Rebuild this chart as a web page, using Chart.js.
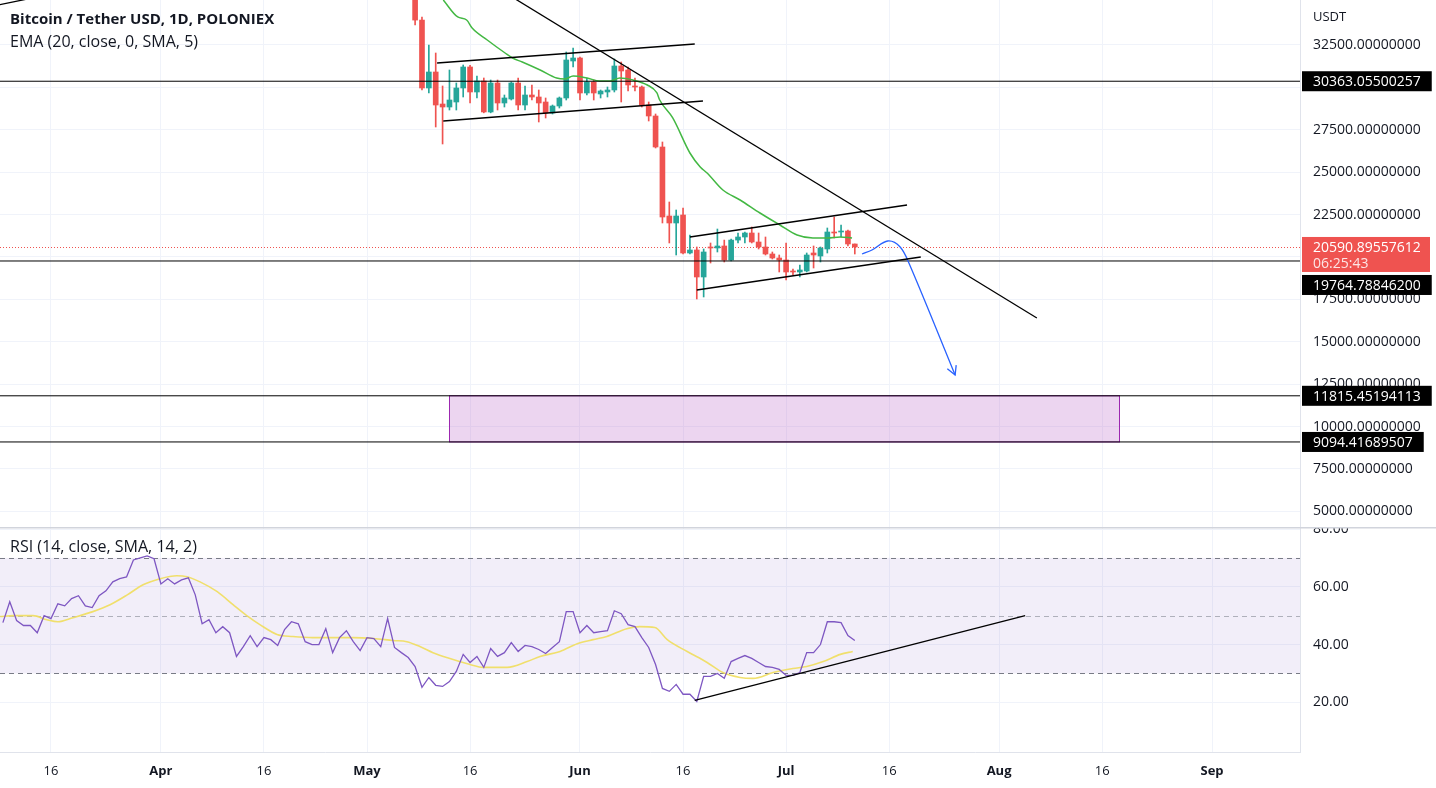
<!DOCTYPE html>
<html>
<head>
<meta charset="utf-8">
<script src="https://cdn.jsdelivr.net/npm/chart.js@4.4.0/dist/chart.umd.min.js"></script>
<style>
  html, body { margin: 0; padding: 0; background: #fff; }
  #wrap { position: relative; width: 1436px; height: 788px; overflow: hidden; }
  #mainBox { position: absolute; left: 0; top: 0; width: 1436px; height: 527px; }
  #rsiBox { position: absolute; left: 0; top: 527px; width: 1436px; height: 261px; }
</style>
</head>
<body>
<div id="wrap">
  <div id="mainBox"><canvas id="mainChart"></canvas></div>
  <div id="rsiBox"><canvas id="rsiChart"></canvas></div>
</div>
<script>
// days are counted from 1 Jun 2022 (day 0)
const dateTickDays = [-77, -61, -46, -31, -16, 0, 15, 30, 45, 61, 76, 92];
const dateTickLabels = ["16", "Apr", "16", "May", "16", "Jun", "16", "Jul", "16", "Aug", "16", "Sep"];
const priceTicks = [5000, 7500, 10000, 12500, 15000, 17500, 20000, 22500, 25000, 27500, 30000, 32500];
const rsiTicks = [20, 40, 60, 80];

// daily candles, 8 May .. 11 Jul
const candleStartDay = -24;
const opens = [35470, 33970, 29965, 30908, 29020, 28844, 29139, 29965, 31203, 29729, 30377, 28550, 30259, 29080, 29316, 30259, 28962, 29552, 29434, 29139, 28491, 28903, 29375, 31557,
  31734, 29670, 30318, 29611, 29729, 29847, 31262, 31026, 30083, 30024, 28962, 28314, 26486, 22417, 22005, 22476, 20236, 20413, 18821, 20590, 20531, 20649, 19823, 20998, 21179, 21415,
  20884, 20590, 20177, 19941, 19823, 19175, 19116, 19175, 20236, 20059, 20472, 21474, 21474, 21533, 20767];
const highs = [35500, 34150, 32500, 32028, 30083, 31026, 30259, 31321, 31300, 30672, 30554, 30436, 30436, 29552, 30318, 30554, 30083, 30142, 29847, 29375, 28962, 29434, 32087, 32323,
  31793, 30554, 30436, 29847, 30024, 31675, 31498, 31203, 30554, 30083, 29139, 28432, 26781, 23243, 22771, 22889, 21297, 20590, 20472, 20826, 21650, 20998, 21061, 21415, 21474, 21769,
  21415, 21179, 20295, 20118, 20826, 19293, 19528, 20236, 20649, 20590, 21710, 22358, 21887, 21592, 20767];
const lows = [33680, 29850, 29670, 27665, 26663, 28667, 28667, 29434, 29080, 29375, 28500, 28500, 28667, 28844, 29257, 28667, 28667, 29257, 27960, 28196, 28432, 28785, 29257, 31203,
  29257, 29552, 29257, 29375, 29434, 29729, 29139, 29788, 29788, 28844, 28019, 26427, 22005, 20826, 20118, 20177, 20177, 17524, 17642, 19646, 20295, 19705, 19764, 20826, 20826, 20826,
  20472, 20118, 19882, 19116, 18644, 18939, 18821, 19116, 19351, 19705, 20236, 21120, 21179, 20649, 20177];
const closes = [33970, 29965, 30908, 28962, 28844, 29257, 29965, 31203, 29729, 30377, 28550, 30259, 29080, 29375, 30259, 28962, 29552, 29434, 29080, 28491, 28903, 29375, 31616, 31734,
  29670, 30318, 29670, 29788, 29847, 31262, 30967, 30142, 30024, 28962, 28314, 26486, 22358, 22005, 22417, 20236, 20413, 18821, 20295, 20531, 20649, 19823, 20998, 21179, 21415, 20884,
  20590, 20177, 19941, 19823, 19116, 19116, 19234, 20118, 20118, 20531, 21474, 21415, 21533, 20767, 20590];

// EMA (20)
const emaDays = [-19.9, -17.8, -16.5, -15.7, -13.5, -10.9, -9.8, -8.4, -5.8, -3.4, -2.2, -1.0, 1.0, 2.9, 4.4, 5.8, 7.7, 9.8, 11.2, 11.6, 13.5, 16.0, 17.5, 18.5, 20.8, 23.3, 26.2, 29.1, 31.6, 33.9, 36.0, 37.9, 39.6];
const emaValues = [35153, 34151, 33974, 33502, 32795, 32028, 31733, 31498, 31026, 30554, 30495, 30672, 30554, 30377, 30377, 30554, 30436, 30142, 29670, 29257, 28196, 26132, 25307, 24953, 23950, 23361, 22594, 21887, 21297, 21120, 21120, 21179, 21120];

const levels = [30363.05500257, 19764.788462, 11815.45194113, 9094.41689507];
const currentPrice = 20590.89557612;
const countdown = "06:25:43";
const zoneDays = [-19.07, 78.46];
const zonePrices = [9094.41689507, 11815.45194113];

const trendLines = [
  [[-86, 34750], [-79, 35330]],
  [[-12, 35854], [66.5, 16403]],
  [[-20.8, 31439], [16.7, 32559]],
  [[-19.9, 28019], [17.9, 29198]],
  [[16.0, 21179], [47.6, 23066]],
  [[17.0, 18054], [49.6, 19999]]
];
const arrowDays = [41.05, 42.5, 44.8, 46.6, 48.0, 54.6];
const arrowPrices = [20177, 20413, 20943, 20590, 19528, 13042];

// RSI 14, 9 Mar .. 11 Jul
const rsiStartDay = -84;
const rsiValues = [47.6, 54.8, 48.3, 46.6, 46.6, 44.1, 50.0, 49.0, 54.1, 53.4, 55.9, 56.9, 53.4, 52.8, 56.9, 58.6, 61.7, 62.8, 63.4, 69.3,
  70.0, 70.7, 69.7, 61.0, 62.8, 61.0, 62.4, 63.1, 57.2, 47.2, 48.6, 44.1, 46.2, 44.1, 35.9, 39.3, 43.1, 39.3, 42.4, 41.7,
  39.7, 45.2, 47.9, 47.2, 41.0, 40.0, 40.0, 45.5, 37.2, 42.4, 44.8, 41.0, 37.9, 42.4, 42.1, 39.3, 49.0, 39.0, 37.2, 35.5,
  32.4, 25.2, 28.6, 25.9, 25.5, 27.2, 30.7, 36.6, 33.8, 35.9, 32.1, 38.6, 35.9, 37.2, 40.7, 37.6, 39.7, 39.3, 38.3, 36.9,
  39.0, 41.0, 51.4, 51.4, 44.1, 46.6, 44.1, 44.5, 44.8, 51.7, 50.7, 46.9, 46.2, 42.4, 39.0, 33.1, 24.8, 23.8, 26.2, 22.8,
  22.8, 20.3, 29.0, 29.0, 30.0, 28.3, 34.1, 35.2, 36.2, 35.2, 33.8, 32.4, 32.1, 31.4, 29.3, 29.3, 30.3, 37.2, 37.2, 40.0,
  47.9, 47.9, 47.6, 43.1, 41.4];
const maDays = [-84.4, -82.5, -79.6, -77.6, -76.0, -73.8, -70.9, -68.4, -65.9, -63.6, -61.1, -58.7, -57.2, -55.3, -52.8, -50.5, -48.5, -46.6, -44.1, -41.8,
  -38.9, -36.0, -33.0, -30.1, -27.2, -25.2, -23.3, -21.4, -19.4, -16.0, -14.1, -10.6, -7.7, -5.8, -2.9, -0.4, 1.9, 3.9, 6.8, 8.7,
  10.9, 12.7, 15.6, 18.5, 20.8, 23.3, 25.2, 28.1, 31.0, 33.0, 35.4, 37.9, 39.7];
const maValues = [49.7, 50.0, 50.0, 48.6, 47.9, 49.3, 51.4, 53.8, 57.2, 60.7, 62.8, 63.8, 63.5, 61.7, 58.3, 53.8, 50.0, 46.9, 43.5, 42.8,
  42.4, 42.4, 42.4, 42.1, 41.4, 41.0, 39.3, 37.2, 35.5, 33.1, 32.1, 32.1, 34.1, 35.9, 37.6, 40.3, 41.7, 42.8, 45.5, 46.2,
  45.9, 41.7, 37.6, 33.8, 30.3, 28.6, 28.3, 30.3, 31.7, 32.4, 34.1, 36.6, 37.6];
const rsiTrend = [[16.7, 20.7], [64.8, 50.0]];

const X_MIN = -84.42, X_MAX = 104.8;
const UP = "#26a69a", DOWN = "#ef5350";
const FONT = '"Open Sans", sans-serif';
const TEXT = "#131722";
const GRID = "#f0f3fa";

Chart.defaults.font.family = FONT;
Chart.defaults.font.size = 14;
Chart.defaults.color = TEXT;

function fixAxisWidth(scale) {
  scale.width = 136;
  scale.paddingTop = 0;
  scale.paddingBottom = 0;
}

function xScale(showLabels) {
  return {
    type: "linear",
    min: X_MIN,
    max: X_MAX,
    offset: false,
    afterBuildTicks: (s) => { s.ticks = dateTickDays.map((v) => ({ value: v })); },
    afterFit: (s) => { s.height = showLabels ? 36 : 0; s.paddingLeft = 0; s.paddingRight = 0; },
    grid: { color: GRID, drawTicks: false, offset: false },
    border: { display: showLabels, color: "#e0e3eb" },
    ticks: {
      display: showLabels,
      autoSkip: false,
      maxRotation: 0,
      padding: 11,
      color: TEXT,
      font: (ctx) => ({ family: FONT, size: 13, weight: dateTickLabels[ctx.index] === "16" ? "normal" : "bold" }),
      callback: (v, i) => dateTickLabels[i],
    },
  };
}

const candleDays = closes.map((_, i) => candleStartDay + i);
const candleColors = closes.map((c, i) => (c >= opens[i] ? UP : DOWN));
const bodyData = candleDays.map((d, i) => ({ x: d, y: [opens[i], closes[i]] }));
const wickData = candleDays.map((d, i) => ({ x: d, y: [lows[i], highs[i]] }));

function lineSet(points, color, width, order) {
  return {
    type: "line",
    data: points.map((p) => ({ x: p[0], y: p[1] })),
    borderColor: color,
    borderWidth: width,
    pointRadius: 0,
    fill: false,
    order: order,
  };
}

const mainSets = [
  { type: "bar", data: wickData, backgroundColor: candleColors, barThickness: 1, grouped: false, order: 5 },
  { type: "bar", data: bodyData, backgroundColor: candleColors, barThickness: 5, minBarLength: 1, grouped: false, borderSkipped: false, order: 4 },
  {
    type: "line",
    data: emaDays.map((d, i) => ({ x: d, y: emaValues[i] })),
    borderColor: "#43b843",
    borderWidth: 1.5,
    pointRadius: 0,
    cubicInterpolationMode: "monotone",
    order: 3,
  },
];
levels.forEach((lv) => mainSets.push(lineSet([[X_MIN, lv], [X_MAX, lv]], "#000000", 1, 2)));
trendLines.forEach((t) => mainSets.push(lineSet(t, "#000000", 1.3, 1)));
const arrowSet = lineSet(arrowDays.map((d, i) => [d, arrowPrices[i]]), "#2962ff", 1.3, 1);
arrowSet.tension = 0.35;
mainSets.push(arrowSet);

function priceBox(ctx, text, yTop, h, bg) {
  ctx.font = "14px " + FONT;
  const w = ctx.measureText(text).width + 22;
  ctx.fillStyle = bg;
  ctx.fillRect(1302, yTop, w, h);
  ctx.fillStyle = "#ffffff";
  ctx.textAlign = "left";
  ctx.textBaseline = "middle";
  ctx.fillText(text, 1313, yTop + h / 2 + 1);
  return w;
}

const mainDecor = {
  id: "mainDecor",
  beforeDatasetsDraw(chart) {
    const { ctx, chartArea: a, scales: { x, y } } = chart;
    ctx.save();
    const l = x.getPixelForValue(zoneDays[0]), r = x.getPixelForValue(zoneDays[1]);
    const t = y.getPixelForValue(zonePrices[1]), b = y.getPixelForValue(zonePrices[0]);
    ctx.fillStyle = "rgba(186,104,200,0.28)";
    ctx.fillRect(l, t, r - l, b - t);
    ctx.strokeStyle = "#9c27b0";
    ctx.lineWidth = 1;
    ctx.strokeRect(Math.round(l) + 0.5, t, Math.round(r - l), b - t);
    const py = Math.round(y.getPixelForValue(currentPrice)) + 0.5;
    ctx.strokeStyle = DOWN;
    ctx.setLineDash([1, 2]);
    ctx.beginPath();
    ctx.moveTo(a.left, py);
    ctx.lineTo(a.right, py);
    ctx.stroke();
    ctx.restore();
  },
  afterDraw(chart) {
    const { ctx, scales: { x, y } } = chart;
    ctx.save();
    // arrow head
    const n = arrowDays.length;
    const tx = x.getPixelForValue(arrowDays[n - 1]), ty = y.getPixelForValue(arrowPrices[n - 1]);
    const fx = x.getPixelForValue(arrowDays[n - 2]), fy = y.getPixelForValue(arrowPrices[n - 2]);
    const ang = Math.atan2(ty - fy, tx - fx);
    ctx.strokeStyle = "#2962ff";
    ctx.lineWidth = 1.3;
    ctx.beginPath();
    ctx.moveTo(tx - 10 * Math.cos(ang - 0.5), ty - 10 * Math.sin(ang - 0.5));
    ctx.lineTo(tx, ty);
    ctx.lineTo(tx - 10 * Math.cos(ang + 0.5), ty - 10 * Math.sin(ang + 0.5));
    ctx.stroke();

    // legend texts
    ctx.fillStyle = TEXT;
    ctx.textAlign = "left";
    ctx.textBaseline = "middle";
    ctx.font = "bold 15px " + FONT;
    ctx.fillText("Bitcoin / Tether USD, 1D, POLONIEX", 10, 20);
    ctx.font = "16px " + FONT;
    ctx.fillText("EMA (20, close, 0, SMA, 5)", 10, 42);
    ctx.font = "13px " + FONT;
    ctx.fillText("USDT", 1313, 17);

    // axis price labels
    const cy = y.getPixelForValue(currentPrice);
    const redTop = cy - 10, redH = 35;
    levels.forEach((lv) => {
      const ly = y.getPixelForValue(lv);
      let top = ly - 10;
      if (top < redTop + redH && top + 20 > redTop) top = redTop + redH + 3;
      priceBox(ctx, lv.toFixed(8), top, 20, "#000000");
    });
    ctx.fillStyle = DOWN;
    ctx.fillRect(1302, redTop, 128, redH);
    ctx.fillStyle = "#ffffff";
    ctx.font = "14px " + FONT;
    ctx.fillText(currentPrice.toFixed(8), 1313, cy + 1);
    ctx.fillStyle = "rgba(255,255,255,0.85)";
    ctx.fillText(countdown, 1313, cy + 17);
    ctx.restore();
  },
};

new Chart(document.getElementById("mainChart"), {
  type: "bar",
  data: { datasets: mainSets },
  options: {
    responsive: true,
    maintainAspectRatio: false,
    animation: false,
    events: [],
    layout: { padding: 0 },
    plugins: { legend: { display: false }, tooltip: { enabled: false } },
    scales: {
      x: xScale(false),
      y: {
        type: "linear",
        position: "right",
        min: 4080,
        max: 35153,
        afterBuildTicks: (s) => { s.ticks = priceTicks.map((v) => ({ value: v })); },
        afterFit: fixAxisWidth,
        grid: { color: GRID, drawTicks: false },
        border: { display: true, color: "#e0e3eb" },
        ticks: { autoSkip: false, padding: 13, color: TEXT, callback: (v) => Number(v).toFixed(8) },
      },
    },
  },
  plugins: [mainDecor],
});

const rsiDecor = {
  id: "rsiDecor",
  beforeDatasetsDraw(chart) {
    const { ctx, chartArea: a, scales: { y } } = chart;
    ctx.save();
    const t = y.getPixelForValue(70), b = y.getPixelForValue(30), m = y.getPixelForValue(50);
    ctx.fillStyle = "rgba(126,87,194,0.1)";
    ctx.fillRect(a.left, t, a.right - a.left, b - t);
    ctx.lineWidth = 1;
    ctx.setLineDash([5, 4]);
    [[t, "#787b86"], [m, "rgba(120,123,134,0.55)"], [b, "#787b86"]].forEach(([yy, c]) => {
      ctx.strokeStyle = c;
      ctx.beginPath();
      ctx.moveTo(a.left, Math.round(yy) + 0.5);
      ctx.lineTo(a.right, Math.round(yy) + 0.5);
      ctx.stroke();
    });
    ctx.restore();
  },
  afterDraw(chart) {
    const { ctx } = chart;
    ctx.save();
    ctx.strokeStyle = "#d1d4dc";
    ctx.lineWidth = 1.5;
    ctx.beginPath();
    ctx.moveTo(0, 0.75);
    ctx.lineTo(chart.width, 0.75);
    ctx.stroke();
    ctx.fillStyle = TEXT;
    ctx.font = "16px " + FONT;
    ctx.textAlign = "left";
    ctx.textBaseline = "middle";
    ctx.fillText("RSI (14, close, SMA, 14, 2)", 10, 20);
    ctx.restore();
  },
};

new Chart(document.getElementById("rsiChart"), {
  type: "line",
  data: {
    datasets: [
      {
        data: rsiValues.map((v, i) => ({ x: rsiStartDay + i, y: v })),
        borderColor: "#7e57c2",
        borderWidth: 1.3,
        pointRadius: 0,
        tension: 0,
        order: 2,
      },
      {
        data: maDays.map((d, i) => ({ x: d, y: maValues[i] })),
        borderColor: "rgba(240,222,100,0.95)",
        borderWidth: 1.6,
        pointRadius: 0,
        cubicInterpolationMode: "monotone",
        order: 3,
      },
      lineSet(rsiTrend, "#000000", 1.3, 1),
    ],
  },
  options: {
    responsive: true,
    maintainAspectRatio: false,
    animation: false,
    events: [],
    layout: { padding: 0 },
    plugins: { legend: { display: false }, tooltip: { enabled: false } },
    scales: {
      x: xScale(true),
      y: {
        type: "linear",
        position: "right",
        min: 2.8,
        max: 80.7,
        afterBuildTicks: (s) => { s.ticks = rsiTicks.map((v) => ({ value: v })); },
        afterFit: fixAxisWidth,
        grid: { color: GRID, drawTicks: false },
        border: { display: true, color: "#e0e3eb" },
        ticks: { autoSkip: false, padding: 13, color: TEXT, callback: (v) => Number(v).toFixed(2) },
      },
    },
  },
  plugins: [rsiDecor],
});
</script>
</body>
</html>
